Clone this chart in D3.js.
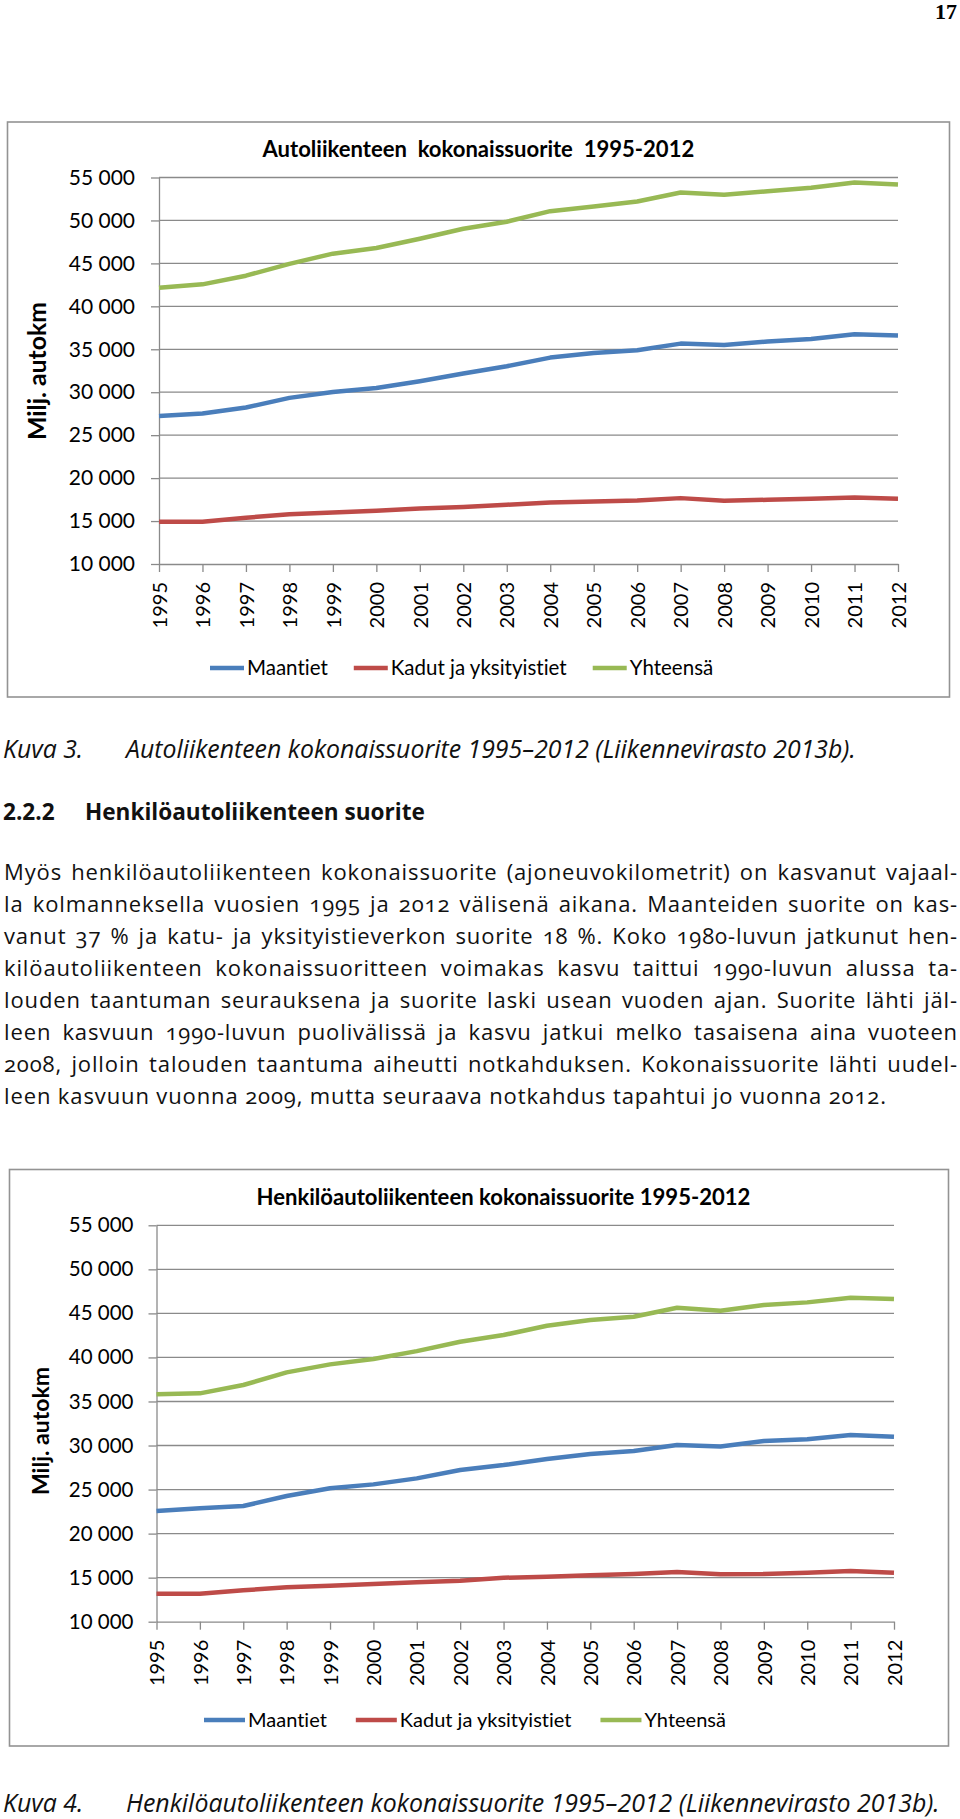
<!DOCTYPE html>
<html><head><meta charset="utf-8">
<script src="https://cdn.jsdelivr.net/npm/d3@7"></script>
<style>body{margin:0;background:#fff;} svg{display:block;} text{font-variant-ligatures:none;}</style>
</head><body>
<svg id="page" width="960" height="1819"></svg>
<script>
// ---------- DATA ----------
const years = ["1995","1996","1997","1998","1999","2000","2001","2002","2003","2004","2005","2006","2007","2008","2009","2010","2011","2012"];
const yTicks = [10000,15000,20000,25000,30000,35000,40000,45000,50000,55000];
const seriesNames = ["Maantiet","Kadut ja yksityistiet","Yhteensä"];
const seriesColors = ["#4A7EBB","#BE4B48","#98B954"];

// Kuva 3: Autoliikenteen kokonaissuorite
const maantiet1 = [27240,27520,28220,29340,30030,30500,31280,32170,33020,34030,34570,34880,35660,35500,35900,36200,36740,36590];
const kadut1    = [14920,14920,15390,15780,16010,16200,16470,16630,16900,17170,17290,17400,17670,17360,17480,17600,17750,17600];
const yhteensa1 = [42170,42560,43570,44950,46130,46800,47870,49030,49850,51080,51630,52200,53260,53000,53400,53800,54420,54190];

// Kuva 4: Henkilöautoliikenteen kokonaissuorite
const maantiet2 = [22560,22870,23130,24270,25140,25590,26270,27220,27780,28460,29030,29370,30050,29900,30510,30700,31190,31000];
const kadut2    = [13180,13180,13560,13900,14090,14280,14470,14650,14990,15110,15260,15410,15640,15380,15410,15560,15750,15560];
const yhteensa2 = [35810,35920,36870,38300,39210,39820,40720,41780,42540,43600,44240,44620,45640,45300,45950,46250,46770,46630];

const title1 = "Autoliikenteen  kokonaissuorite  1995-2012";
const title2 = "Henkilöautoliikenteen kokonaissuorite 1995-2012";
const yTitle = "Milj. autokm";
const caption1 = ["Kuva 3.", "Autoliikenteen kokonaissuorite 1995–2012 (Liikennevirasto 2013b)."];
const caption2 = ["Kuva 4.", "Henkilöautoliikenteen kokonaissuorite 1995–2012 (Liikennevirasto 2013b)."];
const heading = ["2.2.2", "Henkilöautoliikenteen suorite"];
const bodyLines = [
  "Myös henkilöautoliikenteen kokonaissuorite (ajoneuvokilometrit) on kasvanut vajaal-",
  "la kolmanneksella vuosien 1995 ja 2012 välisenä aikana. Maanteiden suorite on kas-",
  "vanut 37 % ja katu- ja yksityistieverkon suorite 18 %. Koko 1980-luvun jatkunut hen-",
  "kilöautoliikenteen kokonaissuoritteen voimakas kasvu taittui 1990-luvun alussa ta-",
  "louden taantuman seurauksena ja suorite laski usean vuoden ajan. Suorite lähti jäl-",
  "leen kasvuun 1990-luvun puolivälissä ja kasvu jatkui melko tasaisena aina vuoteen",
  "2008, jolloin talouden taantuma aiheutti notkahduksen. Kokonaissuorite lähti uudel-",
  "leen kasvuun vuonna 2009, mutta seuraava notkahdus tapahtui jo vuonna 2012."
];
const pageNumber = "17";

// ---------- HELPERS ----------
const svg = d3.select("#page");
const chartFont = "Lato, 'Open Sans', sans-serif";
const textFont = "'Open Sans', Lato, sans-serif";

function fitWidth(sel, target) {
  const w = sel.node().getComputedTextLength();
  const fs = parseFloat(sel.attr("font-size"));
  if (w > 0) sel.attr("font-size", fs * target / w);
  return sel;
}
function justify(sel, target) {
  const w = sel.node().getComputedTextLength();
  const n = (sel.text().match(/ /g) || []).length;
  if (n > 0) sel.attr("word-spacing", (target - w) / n);
}
const fmt = d => d3.format(",")(d).replace(/,/g, " ");

function drawChart(cfg) {
  const g = svg.append("g");
  g.append("rect")
    .attr("x", cfg.box[0]).attr("y", cfg.box[1])
    .attr("width", cfg.box[2] - cfg.box[0]).attr("height", cfg.box[3] - cfg.box[1])
    .attr("fill", "#fff").attr("stroke", "#939393").attr("stroke-width", 1.6);

  const x = d3.scalePoint().domain(years).range([cfg.left, cfg.right]);
  const y = d3.scaleLinear().domain([10000, 55000]).range([cfg.bottom, cfg.top]);

  // gridlines
  g.append("g").selectAll("line").data(yTicks.slice(1)).join("line")
    .attr("x1", cfg.left).attr("x2", cfg.right)
    .attr("y1", d => y(d)).attr("y2", d => y(d))
    .attr("stroke", "#8a8a8a").attr("stroke-width", 1.3);

  // y axis
  const ya = g.append("g").attr("transform", `translate(${cfg.left},0)`)
    .call(d3.axisLeft(y).tickValues(yTicks).tickSize(8).tickSizeOuter(0).tickPadding(cfg.yPad).tickFormat(fmt));
  ya.selectAll("path,line").attr("stroke", "#8a8a8a").attr("stroke-width", 1.3);
  ya.selectAll("text").attr("font-family", chartFont).attr("font-size", cfg.tickFs).attr("fill", "#000");

  // x axis
  const xa = g.append("g").attr("transform", `translate(0,${cfg.bottom})`)
    .call(d3.axisBottom(x).tickSize(8).tickSizeOuter(0));
  xa.selectAll("path,line").attr("stroke", "#8a8a8a").attr("stroke-width", 1.3);
  xa.selectAll("text")
    .attr("font-family", chartFont).attr("font-size", cfg.xFs).attr("fill", "#000")
    .attr("transform", "rotate(-90)").attr("text-anchor", "end")
    .attr("x", -cfg.xGap).attr("y", 0).attr("dy", "0.36em");

  // lines
  const line = d3.line().x((d, i) => x(years[i])).y(d => y(d));
  cfg.series.forEach((s, k) => {
    g.append("path").datum(s).attr("d", line)
      .attr("fill", "none").attr("stroke", seriesColors[k])
      .attr("stroke-width", 4.5).attr("stroke-linejoin", "round").attr("stroke-linecap", "butt");
  });

  // title
  const t = g.append("text").attr("x", cfg.titleX).attr("y", cfg.titleY)
    .attr("font-family", chartFont).attr("font-weight", "bold").attr("font-size", 21)
    .style("white-space", "pre").text(cfg.title);
  fitWidth(t, cfg.titleW);

  // y title
  const yt = g.append("text")
    .attr("transform", `translate(${cfg.yTitleX},${cfg.yTitleY}) rotate(-90)`)
    .attr("text-anchor", "middle")
    .attr("font-family", chartFont).attr("font-weight", "bold").attr("font-size", 20)
    .text(yTitle);
  fitWidth(yt, cfg.yTitleW);

  // legend
  let lx = cfg.legX;
  seriesNames.forEach((name, k) => {
    g.append("line").attr("x1", lx).attr("x2", lx + cfg.legLine)
      .attr("y1", cfg.legY).attr("y2", cfg.legY)
      .attr("stroke", seriesColors[k]).attr("stroke-width", 4.5);
    lx += cfg.legLine + 3;
    const lt = g.append("text").attr("x", lx).attr("y", cfg.legY).attr("dy", "0.35em")
      .attr("font-family", chartFont).attr("font-size", cfg.legFs).attr("fill", "#000").text(name);
    lx += lt.node().getComputedTextLength() + cfg.legGap;
  });
}

// ---------- PAGE ----------
svg.append("text").attr("x", 957).attr("y", 19).attr("text-anchor", "end")
  .attr("font-family", "'Liberation Serif', serif").attr("font-weight", "bold")
  .attr("font-size", 22).text(pageNumber);

drawChart({
  box: [7.5, 122, 949.5, 697],
  left: 159, right: 898, top: 177.5, bottom: 564,
  series: [maantiet1, kadut1, yhteensa1],
  tickFs: 21, xFs: 20, yPad: 16, xGap: 18,
  title: title1, titleX: 262.5, titleY: 156.5, titleW: 432,
  yTitleX: 46, yTitleY: 371, yTitleW: 138,
  legX: 210, legY: 668, legLine: 34, legGap: 26, legFs: 20.5
});

drawChart({
  box: [9.5, 1169.5, 948.5, 1746],
  left: 156.5, right: 894, top: 1225.3, bottom: 1621.7,
  series: [maantiet2, kadut2, yhteensa2],
  tickFs: 20.5, xFs: 20, yPad: 15, xGap: 18,
  title: title2, titleX: 256.5, titleY: 1205, titleW: 494,
  yTitleX: 49, yTitleY: 1431, yTitleW: 128,
  legX: 204, legY: 1720, legLine: 41, legGap: 29, legFs: 20
});

// captions
function caption(c, yb, w) {
  const t = svg.append("text").attr("x", 126).attr("y", yb)
    .attr("font-family", textFont).attr("font-style", "italic").attr("font-size", 19)
    .attr("fill", "#111").text(c[1]);
  fitWidth(t, w);
  svg.append("text").attr("x", 3).attr("y", yb)
    .attr("font-family", textFont).attr("font-style", "italic").attr("font-size", t.attr("font-size"))
    .attr("fill", "#111").text(c[0]);
}
caption(caption1, 757.5, 730);
caption(caption2, 1811.5, 814);

// heading
const h2 = svg.append("text").attr("x", 85).attr("y", 819.5)
  .attr("font-family", textFont).attr("font-weight", "bold").attr("font-size", 21)
  .attr("fill", "#111").text(heading[1]);
fitWidth(h2, 340);
svg.append("text").attr("x", 3).attr("y", 819.5)
  .attr("font-family", textFont).attr("font-weight", "bold").attr("font-size", h2.attr("font-size"))
  .attr("fill", "#111").text(heading[0]);

// body paragraph
bodyLines.forEach((ln, i) => {
  const t = svg.append("text").attr("x", 4).attr("y", 880 + i * 32)
    .attr("font-family", textFont).attr("font-size", 22).attr("letter-spacing", 0.88)
    .attr("fill", "#111")
    .style("font-variant-numeric", "oldstyle-nums").text(ln);
  if (i < bodyLines.length - 1) justify(t, 954);
});
</script>
</body></html>
